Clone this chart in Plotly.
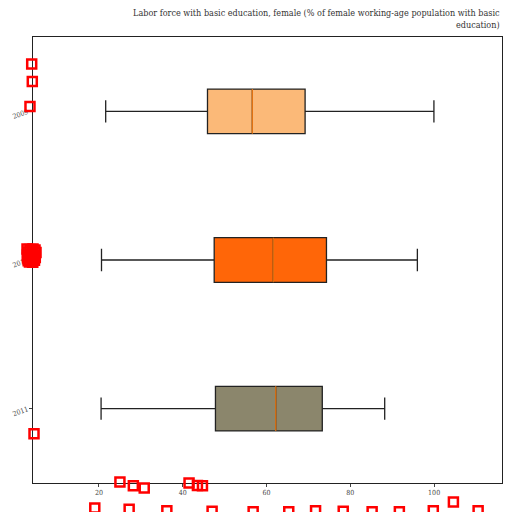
import plotly.graph_objects as go

categories = ["2011", "2012", "2009"]
positions = [1, 2, 3]
lower_whisker = [20.5, 20.6, 21.6]
q1_vals = [47.8, 47.5, 45.9]
medians = [62.2, 61.6, 56.6]
q3_vals = [73.3, 74.3, 69.2]
upper_whisker = [88.2, 96.0, 99.95]
box_colors = ["#8b866c", "#ff6608", "#fbb978"]

outlier_x = [3.94, 4.08, 3.53, 4.49,
             2.82, 3.53, 4.25, 4.73, 3.06, 4.01, 4.97, 2.9, 3.7, 4.5,
             2.95, 3.6, 4.3, 4.8, 3.1, 4.0, 4.6, 3.4, 4.2,
             25.0, 28.2, 30.8, 41.5, 43.5, 44.7,
             19.0, 27.2, 36.2, 47.0, 56.8, 65.3, 71.7, 78.3, 85.2, 91.7, 99.8, 104.6, 110.5]
outlier_y = [3.318, 3.201, 3.033, 0.832,
             2.074, 2.070, 2.074, 2.067, 2.054, 2.056, 2.050, 2.034, 2.036, 2.032,
             2.013, 2.015, 2.011, 2.016, 1.995, 1.990, 1.998, 1.987, 1.985,
             0.507, 0.482, 0.467, 0.500, 0.484, 0.482,
             0.331, 0.324, 0.314, 0.310, 0.307, 0.306, 0.314, 0.310, 0.306, 0.306, 0.314, 0.373, 0.314]

title_text = "Labor force with basic education, female (% of female working-age population with basic<br>education)"
font_family = "DejaVu Serif Condensed, DejaVu Serif, serif"
box_width = 0.30

W, H = 512, 512
L, R, T, B = 33, 502, 37, 483
x_range = [4.25, 116.2]
y_range = [0.5, 3.5]
sx = (R - L) / (x_range[1] - x_range[0])
sy = (B - T) / (y_range[1] - y_range[0])
x_full = [x_range[0] - L / sx, x_range[1] + (W - R) / sx]
y_full = [y_range[0] - (H - B) / sy, y_range[1] + T / sy]

fig = go.Figure()
for i in range(len(categories)):
    fig.add_trace(go.Box(
        orientation="h",
        y=[positions[i]],
        q1=[q1_vals[i]], median=[medians[i]], q3=[q3_vals[i]],
        lowerfence=[lower_whisker[i]], upperfence=[upper_whisker[i]],
        width=box_width, whiskerwidth=0.5,
        fillcolor=box_colors[i],
        line=dict(color="#222222", width=1.3),
        boxpoints=False, showlegend=False, hoverinfo="skip",
    ))

mx, my = [], []
for i in range(len(categories)):
    mx += [medians[i], medians[i], None]
    my += [positions[i] - box_width / 2, positions[i] + box_width / 2, None]
fig.add_trace(go.Scatter(x=mx, y=my, mode="lines", line=dict(color="#ff7f0e", width=1.1),
                         showlegend=False, hoverinfo="skip"))

fig.add_trace(go.Scatter(x=outlier_x, y=outlier_y, mode="markers", cliponaxis=False,
                         xaxis="x3", yaxis="y3",
                         marker=dict(symbol="square-open", size=9, color="red", line=dict(width=2.5, color="red")),
                         showlegend=False, hoverinfo="skip"))

fig.add_annotation(text=title_text, xref="paper", yref="paper", x=R / W, y=1 - 6 / H,
                   xanchor="right", yanchor="top", align="right", showarrow=False,
                   font=dict(family=font_family, size=9, color="#333333"))

fig.update_layout(
    width=W, height=H,
    margin=dict(l=0, r=0, t=0, b=0, pad=0),
    paper_bgcolor="white", plot_bgcolor="rgba(0,0,0,0)",
    font=dict(family=font_family, size=7, color="#444444"),
    xaxis=dict(domain=[L / W, R / W], range=x_range, tickvals=[20, 40, 60, 80, 100], ticks="outside", ticklen=3,
               showgrid=False, zeroline=False, showline=True, mirror=True, linecolor="#222222", linewidth=1,
               tickfont=dict(size=7, color="#444444"), anchor="y"),
    yaxis=dict(domain=[1 - B / H, 1 - T / H], range=y_range, tickvals=positions, ticktext=categories,
               ticks="outside", ticklen=3, tickangle=-20, showgrid=False, zeroline=False, showline=True,
               mirror=True, linecolor="#222222", linewidth=1, tickfont=dict(size=7, color="#444444"), anchor="x"),
    xaxis3=dict(domain=[0, 1], range=x_full, visible=False, anchor="y3", fixedrange=True),
    yaxis3=dict(domain=[0, 1], range=y_full, visible=False, anchor="x3", fixedrange=True),
)
fig.write_html("out.html")
